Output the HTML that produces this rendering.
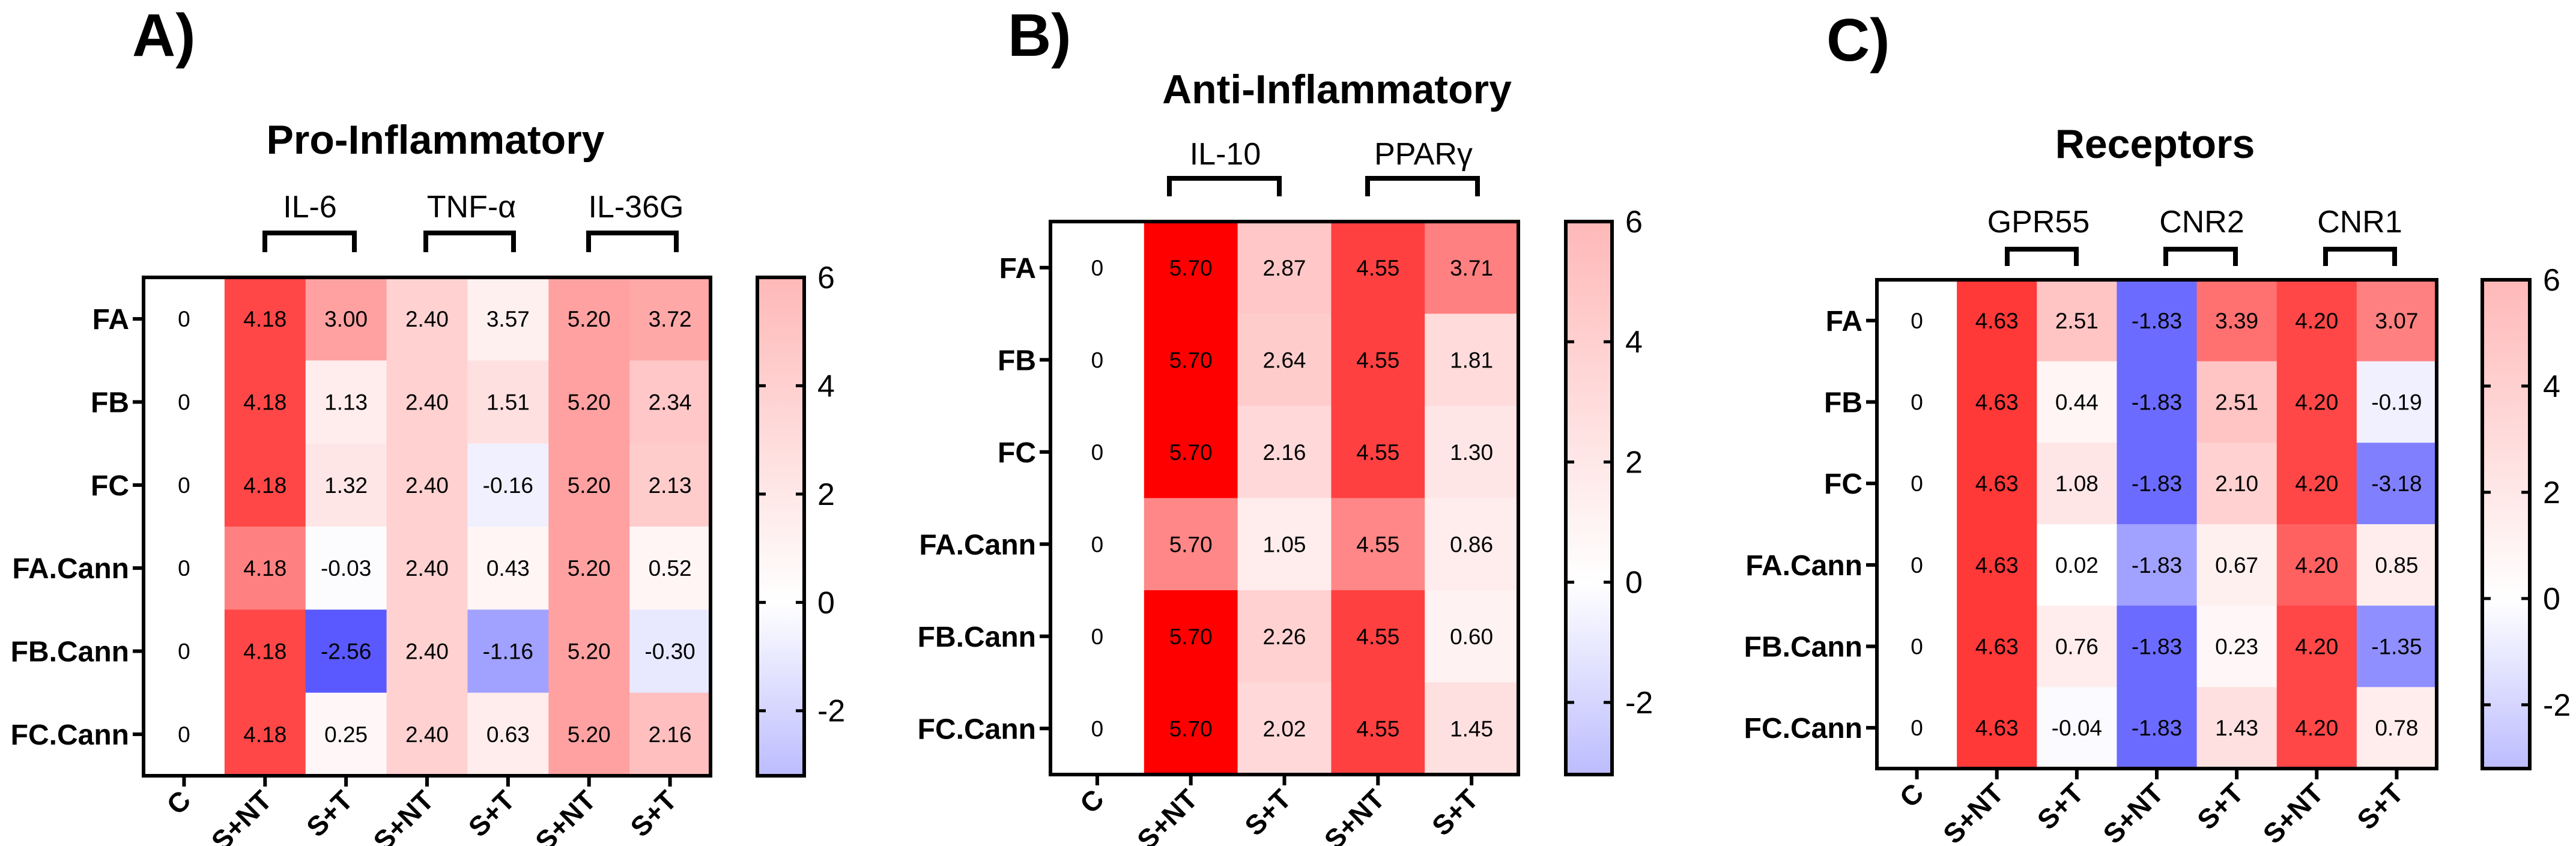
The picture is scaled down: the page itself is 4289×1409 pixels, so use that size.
<!DOCTYPE html>
<html><head><meta charset="utf-8">
<style>
html,body{margin:0;padding:0;background:#fff;}
svg{display:block;font-family:"Liberation Sans",Arial,sans-serif;}
</style></head>
<body>
<svg id="fig" width="4289" height="1409" viewBox="0 0 4289 1409" xmlns="http://www.w3.org/2000/svg">
<defs>
<linearGradient id="cbar" x1="0" y1="0" x2="0" y2="1">
<stop offset="0" stop-color="#ffb8b8"/>
<stop offset="0.652" stop-color="#ffffff"/>
<stop offset="1" stop-color="#bcbcff"/>
</linearGradient>
</defs>
</svg>
<script>
// Row / column categories
const rowLabels = ["FA","FB","FC","FA.Cann","FB.Cann","FC.Cann"];
const colLabelsA = ["C","S+NT","S+T","S+NT","S+T","S+NT","S+T"];
const colLabelsB = ["C","S+NT","S+T","S+NT","S+T"];
const colLabelsC = ["C","S+NT","S+T","S+NT","S+T","S+NT","S+T"];
const groupsA = ["IL-6","TNF-α","IL-36G"];
const groupsB = ["IL-10","PPARγ"];
const groupsC = ["GPR55","CNR2","CNR1"];
const colorbarTicks = [6,4,2,0,-2];

// Printed cell values (rows x cols)
const valuesA = [
 [0,4.18,3.00,2.40,3.57,5.20,3.72],
 [0,4.18,1.13,2.40,1.51,5.20,2.34],
 [0,4.18,1.32,2.40,-0.16,5.20,2.13],
 [0,4.18,-0.03,2.40,0.43,5.20,0.52],
 [0,4.18,-2.56,2.40,-1.16,5.20,-0.30],
 [0,4.18,0.25,2.40,0.63,5.20,2.16]];
const valuesB = [
 [0,5.70,2.87,4.55,3.71],
 [0,5.70,2.64,4.55,1.81],
 [0,5.70,2.16,4.55,1.30],
 [0,5.70,1.05,4.55,0.86],
 [0,5.70,2.26,4.55,0.60],
 [0,5.70,2.02,4.55,1.45]];
const valuesC = [
 [0,4.63,2.51,-1.83,3.39,4.20,3.07],
 [0,4.63,0.44,-1.83,2.51,4.20,-0.19],
 [0,4.63,1.08,-1.83,2.10,4.20,-3.18],
 [0,4.63,0.02,-1.83,0.67,4.20,0.85],
 [0,4.63,0.76,-1.83,0.23,4.20,-1.35],
 [0,4.63,-0.04,-1.83,1.43,4.20,0.78]];

// Displayed colour intensity of each cell (-1 full blue .. 1 full red)
const shadeA = [
 [0,.72,.37,.18,.06,.37,.34],
 [0,.72,.07,.18,.12,.37,.22],
 [0,.72,.10,.18,-.06,.37,.20],
 [0,.50,-.01,.18,.04,.37,.04],
 [0,.72,-.65,.18,-.37,.37,-.09],
 [0,.72,.03,.18,.07,.37,.25]];
const shadeB = [
 [0,1,.22,.75,.50],
 [0,1,.20,.75,.14],
 [0,1,.15,.75,.10],
 [0,.47,.07,.47,.07],
 [0,1,.18,.75,.05],
 [0,1,.15,.75,.12]];
const shadeC = [
 [0,.78,.23,-.58,.56,.72,.50],
 [0,.78,.04,-.58,.23,.72,-.06],
 [0,.78,.10,-.58,.18,.72,-.50],
 [0,.78,0,-.37,.06,.62,.07],
 [0,.78,.07,-.58,.03,.72,-.44],
 [0,.78,-.02,-.58,.12,.72,.07]];

const NS="http://www.w3.org/2000/svg";
const svg=document.getElementById('fig');
function mk(tag,attrs,parent){const e=document.createElementNS(NS,tag);for(const k in attrs)e.setAttribute(k,attrs[k]);(parent||svg).appendChild(e);return e;}
function shadeColor(s){const c=Math.round(255*(1-Math.min(1,Math.abs(s))));return s>=0?`rgb(255,${c},${c})`:`rgb(${c},${c},255)`;}
function fmt(v){return v===0?"0":v.toFixed(2);}

const panels=[
 {id:"a",letter:"A)",lx:220,ly:93,title:"Pro-Inflammatory",tx:725,ty:256,
  box:[239,462,1183,1292],cb:[1261,462,1339,1292],cols:colLabelsA,vals:valuesA,shade:shadeA,
  groups:groupsA,gy:362,gcx:[516,785,1059],br:[[441,590],[709,855],[980,1126]],bt:388,bb:420},
 {id:"b",letter:"B)",lx:1678,ly:93,title:"Anti-Inflammatory",tx:2226,ty:172,
  box:[1749,369,2528,1290],cb:[2607,369,2684,1290],cols:colLabelsB,vals:valuesB,shade:shadeB,
  groups:groupsB,gy:274,gcx:[2040,2370],br:[[1947,2130],[2277,2460]],bt:297,bb:327},
 {id:"c",letter:"C)",lx:3041,ly:101,title:"Receptors",tx:3588,ty:263,
  box:[3125,466,4057,1280],cb:[4133,466,4212,1280],cols:colLabelsC,vals:valuesC,shade:shadeC,
  groups:groupsC,gy:387,gcx:[3394,3666,3929],br:[[3342,3457],[3606,3722],[3872,3987]],bt:415,bb:443}
];
const vmax=6,vmin=-3.2;

panels.forEach(p=>{
 const g=mk('g',{});
 
 
 const L=mk('text',{x:p.lx,y:p.ly,'font-size':100,'font-weight':'bold'},g);L.textContent=p.letter;
 
 
 const T=mk('text',{x:p.tx,y:p.ty,'font-size':68,'font-weight':'bold','text-anchor':'middle'},g);T.textContent=p.title;
 
 
 const [x0,y0,x1,y1]=p.box;const nc=p.cols.length,nr=rowLabels.length;
 const cw=(x1-x0)/nc,rh=(y1-y0)/nr;
 const xs=c=>x0+cw*c, ys=r=>y0+rh*r;
 for(let r=0;r<nr;r++)for(let c=0;c<nc;c++){
  const rc=mk('rect',{x:xs(c),y:ys(r),width:cw+0.5,height:rh+0.5,fill:shadeColor(p.shade[r][c])},g);
  
  
  const t=mk('text',{x:xs(c)+cw/2,y:ys(r)+rh/2+13,'font-size':37,'text-anchor':'middle'},g);t.textContent=fmt(p.vals[r][c]);
  
  
 }
 const bx=mk('rect',{x:x0,y:y0,width:x1-x0,height:y1-y0,fill:'none',stroke:'#000','stroke-width':6},g);
 
 
 rowLabels.forEach((lab,r)=>{
  const yy=ys(r)+rh/2;
  mk('line',{x1:x0-18,x2:x0,y1:yy,y2:yy,stroke:'#000','stroke-width':6},g);
  const t=mk('text',{x:x0-24,y:yy+17,'font-size':48,'font-weight':'bold','text-anchor':'end'},g);t.textContent=lab;
  
  
 });
 p.cols.forEach((lab,c)=>{
  const xx=xs(c)+cw/2;
  mk('line',{x1:xx,x2:xx,y1:y1,y2:y1+18,stroke:'#000','stroke-width':6},g);
  const t=mk('text',{x:xx+14,y:y1+44,'font-size':46,'font-weight':'bold','text-anchor':'end',transform:`rotate(-45 ${xx+14} ${y1+44})`},g);t.textContent=lab;
  
  
 });
 p.groups.forEach((lab,i)=>{
  const t=mk('text',{x:p.gcx[i],y:p.gy,'font-size':52,'text-anchor':'middle'},g);t.textContent=lab;
  
  
  const [a,b]=p.br[i];
  const br=mk('path',{d:`M${a} ${p.bb} V${p.bt} H${b} V${p.bb}`,fill:'none',stroke:'#000','stroke-width':8},g);
  
  
 });
 const [cx0,cy0,cx1,cy1]=p.cb;
 const cbs=v=>cy0+(vmax-v)/(vmax-vmin)*(cy1-cy0);
 const cr=mk('rect',{x:cx0,y:cy0,width:cx1-cx0,height:cy1-cy0,fill:'url(#cbar)',stroke:'#000','stroke-width':6},g);
 
 
 colorbarTicks.forEach(v=>{
  const yy=cbs(v);
  if(v!==vmax){mk('line',{x1:cx0,x2:cx0+14,y1:yy,y2:yy,stroke:'#000','stroke-width':5},g);
  mk('line',{x1:cx1-14,x2:cx1,y1:yy,y2:yy,stroke:'#000','stroke-width':5},g);}
  const t=mk('text',{x:cx1+22,y:yy+18,'font-size':52},g);t.textContent=String(v);
  
  
 });
});
</script>
</body></html>
